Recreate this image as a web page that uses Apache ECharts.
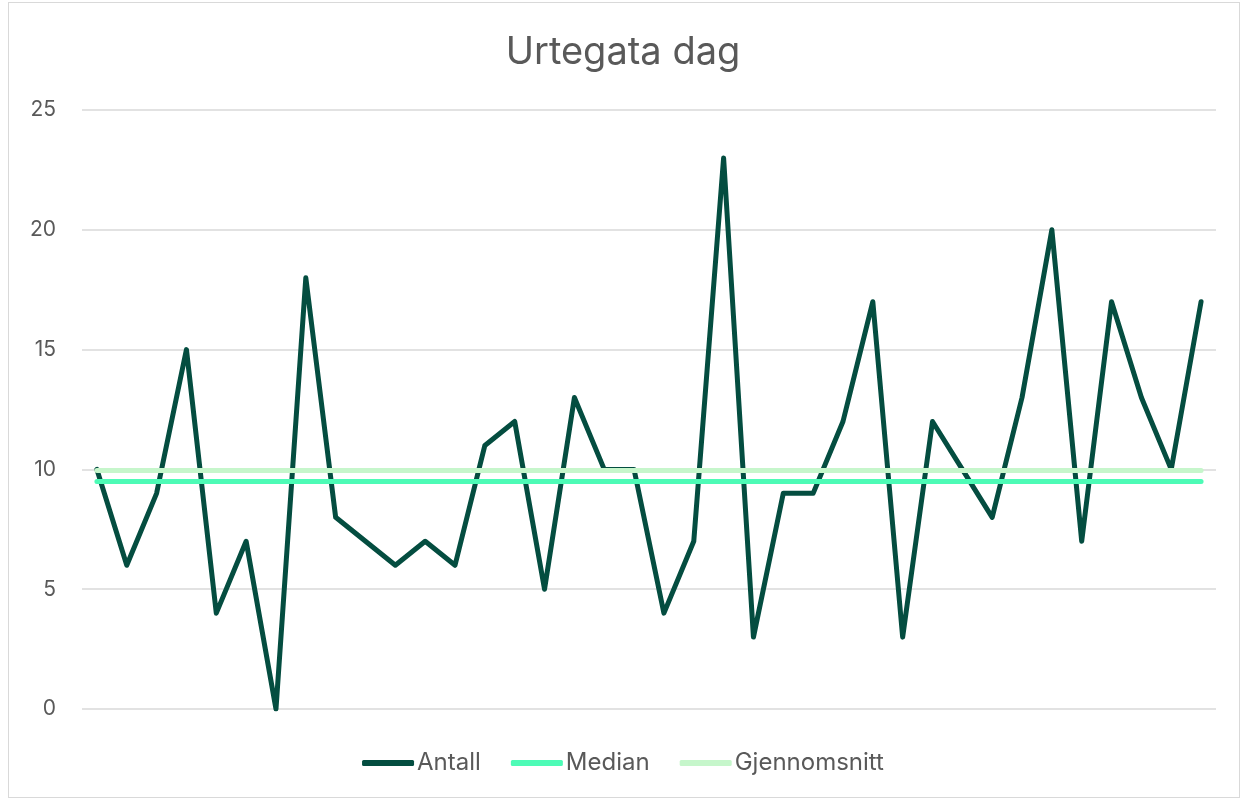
<!DOCTYPE html>
<html>
<head>
<meta charset="utf-8">
<script src="https://cdn.jsdelivr.net/npm/echarts@6/dist/echarts.min.js"></script>
<style>
html, body { margin: 0; padding: 0; background: #fff; }
#chart { width: 1246px; height: 801px; }
#frame { position: absolute; left: 8px; top: 2px; width: 1232px; height: 796px; border: 1px solid #d9d9d9; box-sizing: border-box; pointer-events: none; }
</style>
</head>
<body>
<div id="chart"></div>
<div id="frame"></div>
<script>
// data
const days = Array.from({ length: 38 }, (_, i) => String(i + 1));
const antall = [10, 6, 9, 15, 4, 7, 0, 18, 8, 7, 6, 7, 6, 11, 12, 5, 13, 10, 10, 4,
  7, 23, 3, 9, 9, 12, 17, 3, 12, 10, 8, 13, 20, 7, 17, 13, 10, 17];
const median = days.map(() => 9.5);
const snitt = days.map(() => 9.95);
const yTicks = [0, 5, 10, 15, 20, 25];

const myChart = echarts.init(document.getElementById('chart'));
const font = 'Inter, "Open Sans", sans-serif';

myChart.setOption({
  animation: false,
  title: {
    text: 'Urtegata dag',
    left: 'center',
    top: 29,
    textStyle: { fontFamily: font, fontSize: 38, fontWeight: 'normal', color: '#595959' }
  },
  legend: {
    bottom: 21,
    left: 'center',
    icon: 'roundRect',
    itemWidth: 52,
    itemHeight: 6,
    itemGap: 30,
    textStyle: { fontFamily: font, fontSize: 24, color: '#595959', padding: [0, 0, 0, -2] },
    data: ['Antall', 'Median', 'Gjennomsnitt']
  },
  grid: { left: 82, right: 30, top: 110, bottom: 92 },
  xAxis: {
    type: 'category',
    data: days,
    boundaryGap: true,
    axisLine: { show: false },
    axisTick: { show: false },
    axisLabel: { show: false }
  },
  yAxis: {
    type: 'value',
    min: yTicks[0],
    max: yTicks[yTicks.length - 1],
    interval: 5,
    axisLabel: { fontFamily: font, fontSize: 21, color: '#595959', margin: 26 },
    splitLine: { lineStyle: { color: '#d9d9d9', width: 1.5 } },
    axisLine: { show: false },
    axisTick: { show: false }
  },
  series: [
    {
      name: 'Antall',
      type: 'line',
      data: antall,
      symbol: 'none',
      z: 1,
      lineStyle: { color: '#044d40', width: 5, cap: 'round', join: 'round' },
      itemStyle: { color: '#044d40' }
    },
    {
      name: 'Median',
      type: 'line',
      data: median,
      symbol: 'none',
      z: 2,
      lineStyle: { color: '#4dfbb6', width: 5, cap: 'round' },
      itemStyle: { color: '#4dfbb6' }
    },
    {
      name: 'Gjennomsnitt',
      type: 'line',
      data: snitt,
      symbol: 'none',
      z: 3,
      lineStyle: { color: '#c6f6cb', width: 5, cap: 'round' },
      itemStyle: { color: '#c6f6cb' }
    }
  ]
});
</script>
</body>
</html>
